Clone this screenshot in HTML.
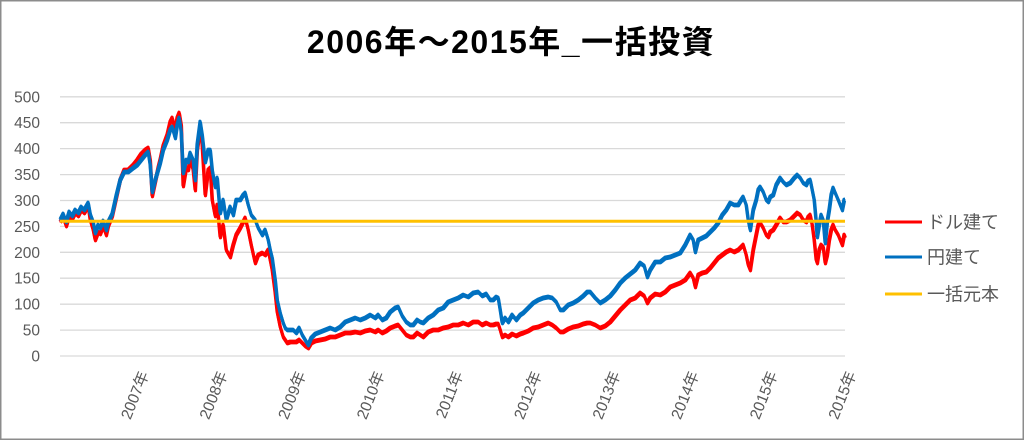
<!DOCTYPE html>
<html><head><meta charset="utf-8"><style>
html,body{margin:0;padding:0;background:#fff;}
svg{display:block;}
text{font-family:"Liberation Sans","Noto Sans CJK JP",sans-serif;}
</style></head><body>
<svg width="1024" height="440" viewBox="0 0 1024 440" xmlns="http://www.w3.org/2000/svg">
<defs>
<polyline id="red" fill="none" stroke="#ff0000" stroke-width="3.2" stroke-linejoin="round" points="60,222 63,217 66,226 69,216 72,219 75,213 78,216 81,210 84,213 88,206 90,220 93,230 95,240 98,232 100,234 103,226 106,235 108,226 112,216 116,198 120,180 124,170 128,170 133,165 137,160 141,154 145,150 148,148 150,160 152,196 155,182 158,168 160,160 163,146 167,135 170,122 172,118 175,130 177,118 179,113 181,125 183,186 186,168 188,170 190,160 193,170 195,190 197,150 200,128 202,145 205,195 208,170 210,168 212,200 215,216 217,205 220,237 223,225 226,250 230,257 233,245 236,235 240,228 243,222 245,218 248,230 251,245 255,263 258,255 262,253 265,255 268,250 270,260 272,270 275,293 277,312 280,327 283,337 285,340 287,343 290,342 293,342 296,342 299,340 302,343 305,346 308,348 311,343 315,341 320,340 325,339 330,337 335,337 340,335 345,333 350,333 355,332 360,333 365,331 370,330 375,332 378,330 382,333 386,331 390,328 395,326 398,325 402,330 406,335 410,337 413,337 417,333 420,335 423,337 428,332 433,330 438,330 443,328 448,327 453,325 458,325 463,323 468,325 473,322 478,322 482,325 486,323 490,325 493,325 496,324 498,324 500,330 502,337 505,335 508,337 512,334 516,336 520,334 523,333 528,331 533,328 538,327 543,325 548,323 552,325 556,328 560,332 563,332 568,329 573,327 578,326 583,324 587,323 590,323 595,325 600,328 605,326 610,322 615,316 620,310 625,305 630,300 635,298 640,293 644,296 647,303 650,298 655,294 660,295 665,292 670,287 675,285 680,283 685,280 690,273 693,278 695,287 698,275 702,273 706,272 710,268 714,263 718,258 722,255 726,252 730,250 734,252 738,250 741,247 743,245 746,255 748,265 750,270 753,250 756,235 758,225 760,223 763,228 766,235 768,237 770,232 773,230 776,225 780,218 783,222 786,222 790,220 794,216 797,213 800,215 803,220 806,222 808,217 810,215 812,225 814,240 816,260 817,263 819,250 821,245 823,247 825,263 827,255 829,240 831,230 833,225 835,230 838,235 840,240 842,245 844,235 845,237"/>
<polyline id="blue" fill="none" stroke="#0070c0" stroke-width="3.2" stroke-linejoin="round" points="60,220 63,214 66,222 69,212 72,216 75,210 78,213 81,207 84,210 88,203 90,214 93,222 95,233 98,225 100,228 103,221 106,230 108,222 112,214 116,196 120,180 124,172 128,172 133,168 137,165 141,160 145,155 148,152 150,165 152,192 155,180 158,170 160,163 163,150 167,140 170,130 172,127 175,138 177,125 179,118 181,132 183,173 186,160 188,162 190,153 193,160 195,180 197,145 200,122 202,135 205,162 208,150 210,150 212,170 215,187 217,178 220,213 223,200 226,220 230,207 233,215 236,200 240,200 243,195 245,193 248,205 251,215 255,220 258,228 262,235 265,230 268,240 270,250 272,258 275,280 277,300 280,313 283,323 285,328 287,330 290,330 293,330 296,333 299,328 302,335 305,340 308,345 311,338 315,334 320,332 325,330 330,328 335,330 340,327 345,322 350,320 355,318 360,320 365,318 370,315 375,318 378,315 382,320 386,318 390,312 395,308 398,307 402,316 406,322 410,325 413,325 417,320 420,322 423,323 428,318 433,315 438,310 443,308 448,302 453,300 458,298 463,295 468,297 473,293 478,292 482,296 486,294 490,300 493,300 496,297 498,298 500,310 502,323 505,318 508,322 512,315 516,320 520,315 523,313 528,308 533,303 538,300 543,298 548,297 552,298 556,302 560,310 563,310 568,305 573,303 578,300 583,296 587,292 590,292 595,298 600,303 605,300 610,296 615,290 620,283 625,278 630,274 635,270 640,263 644,266 647,277 650,270 655,262 660,262 665,258 670,257 675,255 680,253 685,245 690,235 693,240 695,252 698,240 702,238 706,236 710,232 714,228 718,223 722,215 726,210 730,203 734,205 738,205 741,200 743,197 746,205 748,220 750,230 753,210 756,200 758,190 760,187 763,192 766,200 768,202 770,197 773,195 776,185 780,178 783,182 786,185 790,183 794,178 797,175 800,178 803,183 806,185 808,181 810,180 812,190 814,200 816,222 817,237 819,225 821,215 823,220 825,243 827,222 829,210 831,195 833,188 835,193 838,200 840,205 842,210 844,200 845,200"/>
</defs>
<rect x="0" y="0" width="1024" height="440" fill="#fff"/>
<rect x="0.75" y="0.75" width="1022.5" height="438.5" fill="none" stroke="#8c8c8c" stroke-width="1.5"/>
<text x="511" y="53" text-anchor="middle" font-size="32" font-weight="bold" fill="#000" letter-spacing="1.5">2006年～2015年_一括投資</text>
<g stroke="#d9d9d9" stroke-width="1.3">
<line x1="60" y1="356" x2="845" y2="356"/>
<line x1="60" y1="330.1" x2="845" y2="330.1"/>
<line x1="60" y1="304.2" x2="845" y2="304.2"/>
<line x1="60" y1="278.2" x2="845" y2="278.2"/>
<line x1="60" y1="252.3" x2="845" y2="252.3"/>
<line x1="60" y1="226.4" x2="845" y2="226.4"/>
<line x1="60" y1="200.5" x2="845" y2="200.5"/>
<line x1="60" y1="174.6" x2="845" y2="174.6"/>
<line x1="60" y1="148.6" x2="845" y2="148.6"/>
<line x1="60" y1="122.7" x2="845" y2="122.7"/>
<line x1="60" y1="96.8" x2="845" y2="96.8"/>
</g>
<g font-size="15.5" fill="#595959" text-anchor="end">
<text x="40" y="361.5">0</text>
<text x="40" y="335.6">50</text>
<text x="40" y="309.7">100</text>
<text x="40" y="283.7">150</text>
<text x="40" y="257.8">200</text>
<text x="40" y="231.9">250</text>
<text x="40" y="206">300</text>
<text x="40" y="180.1">350</text>
<text x="40" y="154.1">400</text>
<text x="40" y="128.2">450</text>
<text x="40" y="102.3">500</text>
</g>
<g font-size="15.5" fill="#595959" text-anchor="end">
<text transform="translate(144,372) rotate(-68)" dy="0.35em">2007年</text>
<text transform="translate(222.6,372) rotate(-68)" dy="0.35em">2008年</text>
<text transform="translate(301.2,372) rotate(-68)" dy="0.35em">2009年</text>
<text transform="translate(379.8,372) rotate(-68)" dy="0.35em">2010年</text>
<text transform="translate(458.4,372) rotate(-68)" dy="0.35em">2011年</text>
<text transform="translate(537,372) rotate(-68)" dy="0.35em">2012年</text>
<text transform="translate(615.6,372) rotate(-68)" dy="0.35em">2013年</text>
<text transform="translate(694.2,372) rotate(-68)" dy="0.35em">2014年</text>
<text transform="translate(772.8,372) rotate(-68)" dy="0.35em">2015年</text>
<text transform="translate(851.4,372) rotate(-68)" dy="0.35em">2015年</text>
</g>
<use href="#red" transform="translate(0,-0.8)"/>
<use href="#red" transform="translate(0.5,0.8)"/>
<use href="#blue" transform="translate(0,-0.8)"/>
<use href="#blue" transform="translate(0.5,0.8)"/>
<line x1="60" y1="221.3" x2="845" y2="221.3" stroke="#ffc000" stroke-width="3"/>
<line x1="885" y1="222" x2="922" y2="222" stroke="#ff0000" stroke-width="3"/>
<line x1="885" y1="257" x2="922" y2="257" stroke="#0070c0" stroke-width="3"/>
<line x1="885" y1="294" x2="922" y2="294" stroke="#ffc000" stroke-width="3"/>
<g font-size="18" fill="#595959">
<text x="927" y="228.5">ドル建て</text>
<text x="927" y="263.5">円建て</text>
<text x="927" y="300.5">一括元本</text>
</g>
</svg>
</body></html>
